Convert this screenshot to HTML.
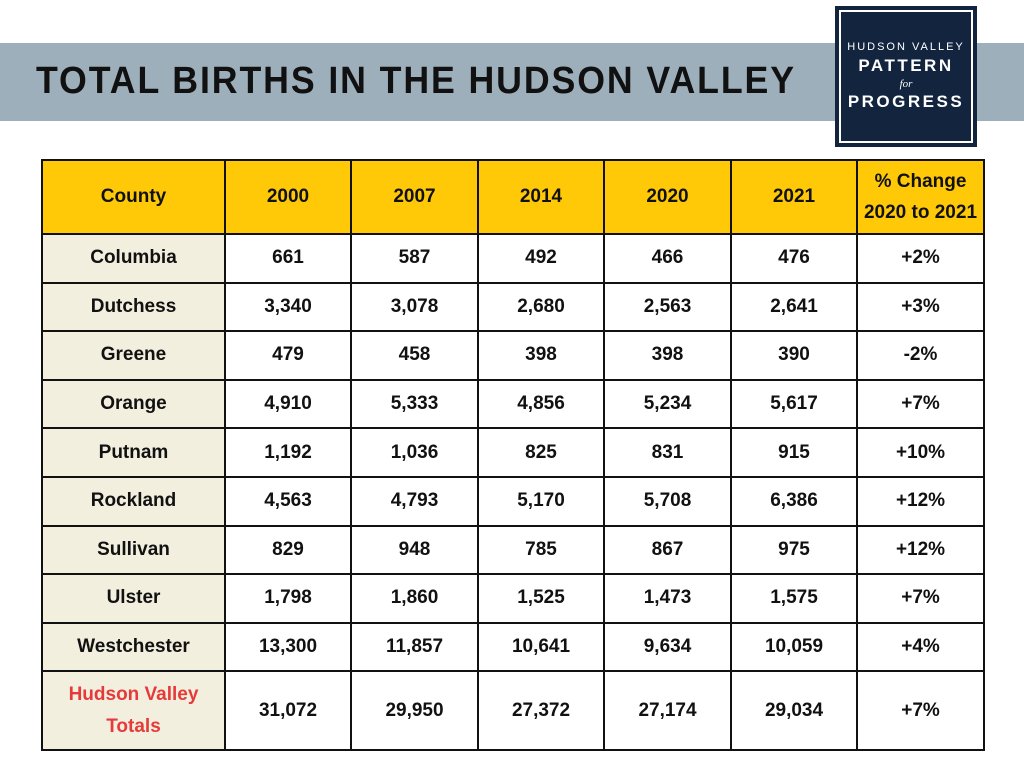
<!DOCTYPE html>
<html><head><meta charset="utf-8"><style>
body{margin:0;width:1024px;height:768px;background:#fff;position:relative;overflow:hidden;font-family:"Liberation Sans",sans-serif}
#banner{position:absolute;left:0;top:43px;width:1024px;height:78px;background:#9eafbc}
#title{position:absolute;left:36px;top:60px;font-size:38px;font-weight:bold;letter-spacing:2px;color:#111;white-space:nowrap;transform:scaleX(0.94);transform-origin:left}
#logo{position:absolute;left:835px;top:6px;width:142px;height:141px;background:#13243f}
#logo .in{position:absolute;left:4px;top:4px;right:4px;bottom:4px;border:2px solid #fff;color:#fff;text-align:center}
#logo .a{margin-top:29px;font-size:11px;letter-spacing:2px}
#logo .b{font-size:17px;font-weight:bold;letter-spacing:2.5px;margin-top:3px}
#logo .c{font-family:"Liberation Serif",serif;font-style:italic;font-size:11px;margin:2px 0}
table{position:absolute;left:41px;top:159px;border-collapse:collapse;table-layout:fixed}
td{border:2px solid #111;text-align:center;font-weight:bold;font-size:19px;color:#111;padding:0}
tr.h td{background:#ffc907;height:72px}
tr.r td{height:46.6px}
tr.t td{height:77px}
td.c{background:#f3efdf}
td.red{color:#e63a3a;line-height:32px}
</style></head><body>
<div id="banner"></div>
<div id="title">TOTAL BIRTHS IN THE HUDSON VALLEY</div>
<div id="logo"><div class="in"><div class="a">HUDSON VALLEY</div><div class="b">PATTERN</div><div class="c">for</div><div class="b" style="margin-top:0">PROGRESS</div></div></div>
<table>
<colgroup><col style="width:183px"><col style="width:126px"><col style="width:127px"><col style="width:126px"><col style="width:127px"><col style="width:126px"><col style="width:127px"></colgroup>
<tbody id="tb">
<tr class="h"><td>County</td><td>2000</td><td>2007</td><td>2014</td><td>2020</td><td>2021</td><td style="line-height:31px">% Change<br>2020 to 2021</td></tr>
</tbody></table>
<script>
const counties=["Columbia","Dutchess","Greene","Orange","Putnam","Rockland","Sullivan","Ulster","Westchester"];
const v2000=["661","3,340","479","4,910","1,192","4,563","829","1,798","13,300"];
const v2007=["587","3,078","458","5,333","1,036","4,793","948","1,860","11,857"];
const v2014=["492","2,680","398","4,856","825","5,170","785","1,525","10,641"];
const v2020=["466","2,563","398","5,234","831","5,708","867","1,473","9,634"];
const v2021=["476","2,641","390","5,617","915","6,386","975","1,575","10,059"];
const pct=["+2%","+3%","-2%","+7%","+10%","+12%","+12%","+7%","+4%"];
const totals=["31,072","29,950","27,372","27,174","29,034","+7%"];
const tb=document.getElementById('tb');
counties.forEach((c,i)=>{
  const tr=document.createElement('tr');tr.className='r';
  
  
  [c,v2000[i],v2007[i],v2014[i],v2020[i],v2021[i],pct[i]].forEach((t,j)=>{
    const td=document.createElement('td');td.textContent=t;if(j===0)td.className='c';tr.appendChild(td);
  });
  tb.appendChild(tr);
});
const tr=document.createElement('tr');tr.className='t';


const td0=document.createElement('td');td0.className='c red';td0.innerHTML='Hudson Valley<br>Totals';tr.appendChild(td0);
totals.forEach(t=>{const td=document.createElement('td');td.textContent=t;tr.appendChild(td);});
tb.appendChild(tr);
</script>
</body></html>
